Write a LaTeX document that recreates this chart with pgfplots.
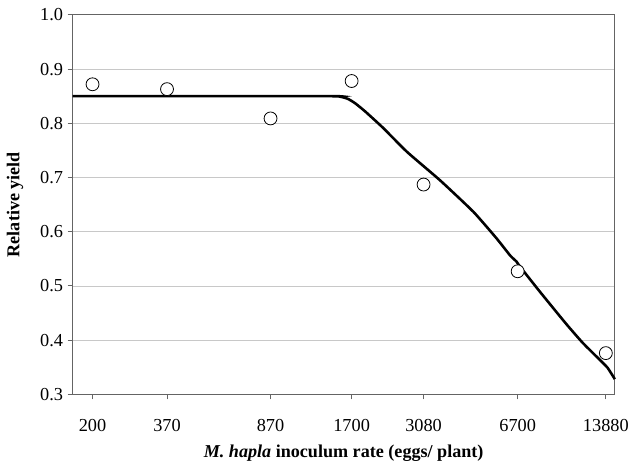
\documentclass[border=0pt]{standalone}
\usepackage{pgfplots}
\pgfplotsset{compat=1.18}
\usepackage{fontspec}
\setmainfont{Liberation Serif}
\definecolor{axgray}{RGB}{100,100,100}
\definecolor{gridgray}{RGB}{200,200,200}
\begin{document}
\begin{tikzpicture}
\begin{axis}[
  scale only axis,
  width=546bp, height=382bp,
  xmode=log,
  xmin=169.5, xmax=14950,
  ymin=0.3, ymax=1.0,
  xtick={200,370,870,1700,3080,6700,13880},
  xticklabels={200,370,870,1700,3080,6700,13880},
  ytick={0.3,0.4,0.5,0.6,0.7,0.8,0.9,1.0},
  yticklabel style={/pgf/number format/fixed, /pgf/number format/fixed zerofill, /pgf/number format/precision=1, xshift=-1bp},
  /pgf/number format/assume math mode=true,
  minor xtick={},
  minor x tick num=0,
  log ticks with fixed point,
  ymajorgrids,
  grid style={gridgray, line width=0.8bp},
  axis line style={axgray, line width=1bp},
  tick style={axgray, line width=1bp},
  tick align=outside,
  major tick length=5bp,
  xtick pos=bottom, ytick pos=left,
  tick label style={font=\fontsize{18.5}{21}\selectfont, black},
  xticklabel style={yshift=-17bp},
  xlabel={\textbf{\textit{M. hapla} inoculum rate (eggs/ plant)}},
  ylabel={\textbf{Relative yield}},
  label style={font=\fontsize{18.3}{21}\selectfont},
  xlabel style={at={(axis description cs:0.5,-0.156)}, anchor=center},
  ylabel style={at={(axis description cs:-0.106,0.5)}, anchor=center},
  clip=false,
]
\addplot[black, line width=2.6bp, smooth, tension=0.3] coordinates {
  (169.5,0.85) (1400,0.85) (1550,0.849) (1650,0.845) (1750,0.837) (1900,0.822)
  (2200,0.792) (2690,0.747) (3535,0.6945) (4650,0.6366) (5628,0.5877)
  (6300,0.556) (6634,0.545) (6800,0.537) (8030,0.49) (10000,0.43)
  (11466,0.395) (13140,0.3647) (14080,0.349) (14950,0.328)
};
\addplot[only marks, mark=*, mark size=6.5bp, mark options={fill=white, draw=black, line width=0.8bp}] coordinates {
  (200,0.872) (370,0.863) (870,0.809) (1700,0.878) (3080,0.687) (6700,0.527) (13880,0.376)
};
\end{axis}
\path (current axis.south west) ++(-73bp,-66bp) rectangle ++(632bp,463bp);
\end{tikzpicture}
\end{document}
